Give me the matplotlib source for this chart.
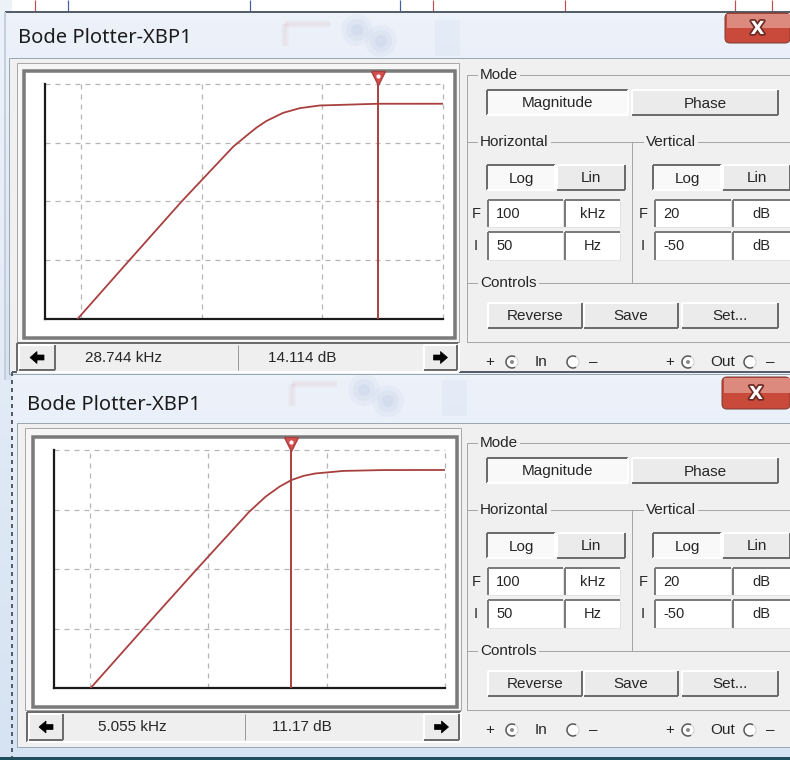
import matplotlib.pyplot as plt
import matplotlib.patheffects as pe
import numpy as np
from matplotlib.patches import Rectangle, FancyBboxPatch, Circle, Arc, Polygon
from matplotlib.ticker import NullLocator

# magnitude traces (Hz, dB) for the two captures of XBP1
upper_freq = [93, 238, 679, 1816, 2344, 2837, 3435, 4715, 6486, 9490, 28744, 100000]
upper_db = [-50.0, -33.4, -15.0, 1.3, 4.6, 7.0, 9.0, 11.4, 12.8, 13.6, 14.114, 14.12]
lower_freq = [102, 264, 791, 2218, 3063, 4000, 5055, 6400, 8060, 13900, 30000, 100000]
lower_db = [-50.0, -33.8, -15.3, 1.8, 6.3, 9.2, 11.17, 12.4, 13.1, 13.85, 14.1, 14.12]

# cursor readouts (Hz, dB)
upper_cursor = (28744, 14.114)
lower_cursor = (5055, 11.17)

# plotter settings
f_min, f_max = 50, 100e3
db_min, db_max = -50, 20
h_fields = [("100", "kHz"), ("50", "Hz")]
v_fields = [("20", "dB"), ("-50", "dB")]
grid_freq = [100, 1e3, 1e4, 1e5]
grid_db = [-32.5, -15, 2.5, 20]

W, H = 790, 760
FACE = "#f0f0f0"
INK = "#262626"
TRACE = "#a8403f"
UI = "Liberation Sans"

fig = plt.figure(figsize=(W / 100, H / 100), dpi=100)
fig.patch.set_facecolor("white")
ui = fig.add_axes([0, 0, 1, 1], zorder=0)


def px(v):
    return v * 0.72


def rect(x0, y0, x1, y1, fc="none", ec="none", lw=1, z=1, alpha=1):
    ui.add_patch(Rectangle((x0, y0), x1 - x0, y1 - y0, facecolor=fc,
                           edgecolor=ec, linewidth=px(lw), zorder=z,
                           alpha=alpha))


def seg(x0, y0, x1, y1, c, lw=1, z=3, ls="-", alpha=1):
    ui.plot([x0, x1], [y0, y1], color=c, lw=px(lw), zorder=z, ls=ls,
            solid_capstyle="butt", alpha=alpha)


def bevel(x0, y0, x1, y1, sunk, z=3):
    dark, light = "#6c6c6c", "#ffffff"
    a, b = (dark, light) if sunk else (light, dark)
    seg(x0, y0, x1, y0, a, 2, z)
    seg(x0, y0, x0, y1, a, 2, z)
    seg(x0, y1, x1, y1, b, 2, z)
    seg(x1, y0, x1, y1, b, 2, z)


def button(x0, y0, x1, y1, label, pressed=False):
    rect(x0, y0, x1, y1, fc="#f9f9f9" if pressed else "#ebebeb", z=2)
    bevel(x0, y0, x1, y1, pressed)
    ui.text((x0 + x1) / 2, (y0 + y1) / 2 + 1, label, ha="center", va="center",
            fontsize=11, family=UI, color=INK, zorder=4)


def entry(x0, y0, x1, y1, label, centered=False):
    rect(x0, y0, x1, y1, fc="white", z=2)
    seg(x0, y0, x1, y0, "#7b7b7b", 2)
    seg(x0, y0, x0, y1, "#7b7b7b", 2)
    seg(x0, y1, x1, y1, "#e2e2e2", 1)
    seg(x1, y0, x1, y1, "#e2e2e2", 1)
    if centered:
        ui.text((x0 + x1) / 2, (y0 + y1) / 2, label, ha="center", va="center",
                fontsize=10.5, family=UI, color=INK, zorder=4)
    else:
        ui.text(x0 + 8, (y0 + y1) / 2, label, ha="left", va="center",
                fontsize=10.5, family=UI, color=INK, zorder=4)


def group_label(x, y, label):
    ui.text(x, y, label, ha="left", va="center", fontsize=11, family=UI,
            color=INK, zorder=4,
            bbox=dict(fc=FACE, ec="none", pad=1.5))


def arrow(cx, cy, d):
    pts = np.array([(-7, 0), (0, -6), (0, -2.5), (7, -2.5),
                    (7, 2.5), (0, 2.5), (0, 6)], dtype=float)
    pts[:, 0] *= -d
    pts += (cx, cy)
    ui.add_patch(Polygon(pts, closed=True, fc="black", ec="black",
                         lw=0.5, zorder=4))


def radio(cx, cy, selected):
    ui.add_patch(Circle((cx, cy), 6, fc="white", ec="#d0d0d0",
                        lw=px(1), zorder=3))
    ui.add_patch(Arc((cx, cy), 12, 12, theta1=60, theta2=300,
                     ec="#5a5a5a", lw=px(1.5), zorder=4))
    if selected:
        ui.add_patch(Circle((cx, cy), 2, fc="#8c8c8c", ec="none", zorder=4))


def glass(x0, y0, x1, y1):
    grad = np.linspace(0, 1, 64)[:, None]
    top = np.array([0.93, 0.95, 0.98])
    bot = np.array([0.84, 0.89, 0.95])
    img = top + (bot - top) * grad[..., None]
    img = np.repeat(img, 2, axis=1)
    ui.imshow(img, extent=(x0, x1, y1, y0), aspect="auto", zorder=0.5,
              interpolation="bilinear")


def ghost(x0, y0):
    # blurred schematic parts seen through the title glass
    for w, a in [(8, 0.03), (4, 0.05)]:
        seg(x0, y0 + 30, x0, y0 + 8, "#c05050", w, z=0.9, alpha=a)
        seg(x0, y0 + 8, x0 + 45, y0 + 8, "#c05050", w, z=0.9, alpha=a)
    for r, a in [(16, 0.04), (11, 0.05), (6, 0.06)]:
        ui.add_patch(Circle((x0 + 72, y0 + 14), r, fc="#5070b0", ec="none",
                            alpha=a, zorder=0.9))
        ui.add_patch(Circle((x0 + 96, y0 + 25), r, fc="#5070b0", ec="none",
                            alpha=a, zorder=0.9))
    rect(x0 + 150, y0 + 4, x0 + 175, y0 + 40, fc="#6080c0", z=0.9, alpha=0.05)


def side_panel(dy):
    # Mode
    seg(467, 75 + dy, 790, 75 + dy, "#a6a6a6")
    seg(467, 75 + dy, 467, 342 + dy, "#a6a6a6")
    group_label(480, 75 + dy, "Mode")
    button(487, 90 + dy, 628, 115 + dy, "Magnitude", pressed=True)
    button(632, 90 + dy, 778, 115 + dy, "Phase")
    # Horizontal / Vertical
    seg(467, 142 + dy, 790, 142 + dy, "#a6a6a6")
    seg(632, 142 + dy, 632, 283 + dy, "#a6a6a6")
    group_label(480, 142 + dy, "Horizontal")
    group_label(646, 142 + dy, "Vertical")
    button(487, 165 + dy, 555, 190 + dy, "Log", pressed=True)
    button(557, 165 + dy, 625, 190 + dy, "Lin")
    button(653, 165 + dy, 721, 190 + dy, "Log", pressed=True)
    button(723, 165 + dy, 790, 190 + dy, "Lin")
    rows = [(200, 227, "F"), (232, 260, "I")]
    for (ya, yb, tag), (hv, hu), (vv, vu) in zip(rows, h_fields, v_fields):
        ui.text(476, (ya + yb) / 2 + dy, tag, ha="center", va="center",
                fontsize=10.5, family=UI, color=INK, zorder=4)
        entry(488, ya + dy, 563, yb + dy, hv)
        entry(565, ya + dy, 620, yb + dy, hu, centered=True)
        ui.text(643, (ya + yb) / 2 + dy, tag, ha="center", va="center",
                fontsize=10.5, family=UI, color=INK, zorder=4)
        entry(655, ya + dy, 731, yb + dy, vv)
        entry(733, ya + dy, 790, yb + dy, vu, centered=True)
    # Controls
    seg(467, 283 + dy, 790, 283 + dy, "#a6a6a6")
    group_label(480, 283 + dy, "Controls")
    button(488, 303 + dy, 582, 328 + dy, "Reverse")
    button(584, 303 + dy, 678, 328 + dy, "Save")
    button(682, 303 + dy, 778, 328 + dy, "Set...")
    seg(467, 342 + dy, 790, 342 + dy, "#a6a6a6")
    # terminal row
    y = 362 + dy
    for x, s in [(490, "+"), (535, "In"), (593, "\u2013"),
                 (670, "+"), (710, "Out"), (770, "\u2013")]:
        ui.text(x, y, s, ha="left" if s not in "+\u2013" else "center",
                va="center", fontsize=11, family=UI, color=INK, zorder=4)
    radio(512, y, True)
    radio(573, y, False)
    radio(688, y, True)
    radio(750, y, False)


def trace_axes(box, freq, db, cursor):
    x0, y0, x1, y1 = box
    ax = fig.add_axes([x0 / W, 1 - y1 / H, (x1 - x0) / W, (y1 - y0) / H],
                      zorder=2)
    ax.set_xscale("log")
    ax.set_xlim(f_min, f_max)
    ax.set_ylim(db_min, db_max)
    for axis in (ax.xaxis, ax.yaxis):
        axis.set_major_locator(NullLocator())
        axis.set_minor_locator(NullLocator())
    ax.patch.set_alpha(0)
    for f in grid_freq:
        ax.axvline(f, color="#b5b5b5", lw=0.9, ls=(0, (4, 4)), clip_on=False,
                   zorder=1)
    for v in grid_db:
        ax.axhline(v, color="#b5b5b5", lw=0.9, ls=(0, (4, 4)), clip_on=False,
                   zorder=1)
    ax.plot(freq, db, color=TRACE, lw=1.3, zorder=3)
    cf, cv = cursor
    ax.axvline(cf, color=TRACE, lw=1.4, zorder=4)
    ax.plot([cf], [1.027], transform=ax.get_xaxis_transform(), marker="v",
            ms=10, mfc="#d65050", mec=TRACE, mew=1, clip_on=False, zorder=5)
    ax.plot([cf], [1.035], transform=ax.get_xaxis_transform(), marker="o",
            ms=3, mfc="white", mec="none", clip_on=False, zorder=6)
    ax.spines[["top", "right"]].set_visible(False)
    for s in ("left", "bottom"):
        ax.spines[s].set_color("#1a1a1a")
        ax.spines[s].set_linewidth(1.6)
    return ax


def window(g, freq, db, cursor):
    fx0, fy0, fx1, fy1 = g["frame"]
    glass(fx0, fy0, fx1, fy1)
    ghost(fx0 + 280, fy0 + 4)
    seg(fx0, fy0, fx1, fy0, "#555f6a", 2, z=1)
    seg(fx0, fy0, fx0, fy1, g["edge"], 2, z=1, ls=g["edge_ls"])
    cx0, cy0, cx1, cy1 = g["client"]
    rect(cx0, cy0, cx1, cy1, fc=FACE, ec="#9aa8b6", z=1)
    tx, ty = g["title"]
    ui.text(tx, ty, "Bode Plotter-XBP1", ha="left", va="center",
            fontsize=14.5, family="Noto Sans", color="#1c1c1c", zorder=4)
    bx0, by0, bx1, by1 = g["close"]
    ui.add_patch(FancyBboxPatch((bx0, by0), bx1 - bx0, by1 - by0,
                                boxstyle="round,pad=0,rounding_size=5",
                                fc="#c94a3a", ec="#7c3a32", lw=px(1), zorder=3))
    rect(bx0 + 2, by0 + 1, bx1, (by0 + by1) / 2, fc="#dc8a7e", z=3.1)
    ui.text((bx0 + bx1) / 2, (by0 + by1) / 2 + 1, "X", ha="center",
            va="center", fontsize=13, weight="bold", family="DejaVu Sans",
            color="white", zorder=4,
            path_effects=[pe.withStroke(linewidth=2.5, foreground="#6e2a22")])

    # plot well
    ox0, oy0, ox1, oy1 = g["outer"]
    rect(ox0, oy0, ox1, oy1, fc="#f6f6f6", ec="#a9a9a9", z=2)
    ix0, iy0, ix1, iy1 = g["inner"]
    rect(ix0, iy0, ix1, iy1, fc="white", ec="#7a7a7a", lw=3.5, z=2)
    trace_axes(g["axes"], freq, db, cursor)

    # readout bar
    sx0, sy0, sx1, sy1 = g["status"]
    rect(sx0, sy0, sx1, sy1, fc="#efefef", z=2)
    bevel(sx0, sy0, sx1, sy1, True)
    lx0, lx1 = g["arrow_l"]
    rx0, rx1 = g["arrow_r"]
    rect(lx0, sy0 + 2, lx1, sy1 - 2, fc="#ececec", z=2.5)
    bevel(lx0, sy0 + 2, lx1, sy1 - 2, False)
    rect(rx0, sy0 + 2, rx1, sy1 - 2, fc="#ececec", z=2.5)
    bevel(rx0, sy0 + 2, rx1, sy1 - 2, False)
    arrow((lx0 + lx1) / 2, (sy0 + sy1) / 2, -1)
    arrow((rx0 + rx1) / 2, (sy0 + sy1) / 2, 1)
    seg(g["divider"], sy0 + 2, g["divider"], sy1 - 2, "#9a9a9a", 1)
    cf, cv = cursor
    t0, t1 = g["text_x"]
    ui.text(t0, g["text_y"], f"{cf / 1000:g} kHz", ha="left", va="center",
            fontsize=11, family=UI, color=INK, zorder=4)
    ui.text(t1, g["text_y"], f"{cv:g} dB", ha="left", va="center",
            fontsize=11, family=UI, color=INK, zorder=4)

    side_panel(g["dy"])


upper = dict(frame=(5, 12, 790, 380), client=(9, 58, 791, 374),
             edge="#c4cfdb", edge_ls="-",
             title=(18, 38), close=(725, 13, 790, 43),
             outer=(17, 63, 459, 342), inner=(24, 71, 455, 338),
             axes=(45, 84, 443, 319), status=(17, 343, 459, 372),
             arrow_l=(19, 55), arrow_r=(424, 457), divider=238,
             text_x=(85, 268), text_y=358, dy=0)
lower = dict(frame=(12, 372, 790, 757), client=(17, 423, 791, 747),
             edge="#555f6a", edge_ls=(0, (2, 2)),
             title=(27, 405), close=(722, 377, 790, 409),
             outer=(25, 428, 461, 710), inner=(33, 437, 457, 707),
             axes=(54, 450, 445, 688), status=(27, 712, 461, 742),
             arrow_l=(29, 63), arrow_r=(424, 459), divider=245,
             text_x=(98, 272), text_y=727, dy=368)

# scraps of the schematic showing around the windows
glass(0, 0, 12, 760)
for x, c in [(35, "#c0504d"), (68, "#4060a0"), (250, "#4060a0"),
             (400, "#4060a0"), (433, "#c0504d"), (565, "#c0504d"),
             (735, "#c0504d"), (772, "#c0504d")]:
    seg(x, 0, x, 12, c, 1.2, z=0.8)
rect(0, 0, 790, 12, fc="white", z=0.4)

window(upper, upper_freq, upper_db, upper_cursor)
window(lower, lower_freq, lower_db, lower_cursor)
rect(0, 757, 790, 760, fc="#1f4e5c", z=5)

ui.set_xlim(0, W)
ui.set_ylim(H, 0)
ui.axis("off")

fig.savefig("out.png", dpi=100)
